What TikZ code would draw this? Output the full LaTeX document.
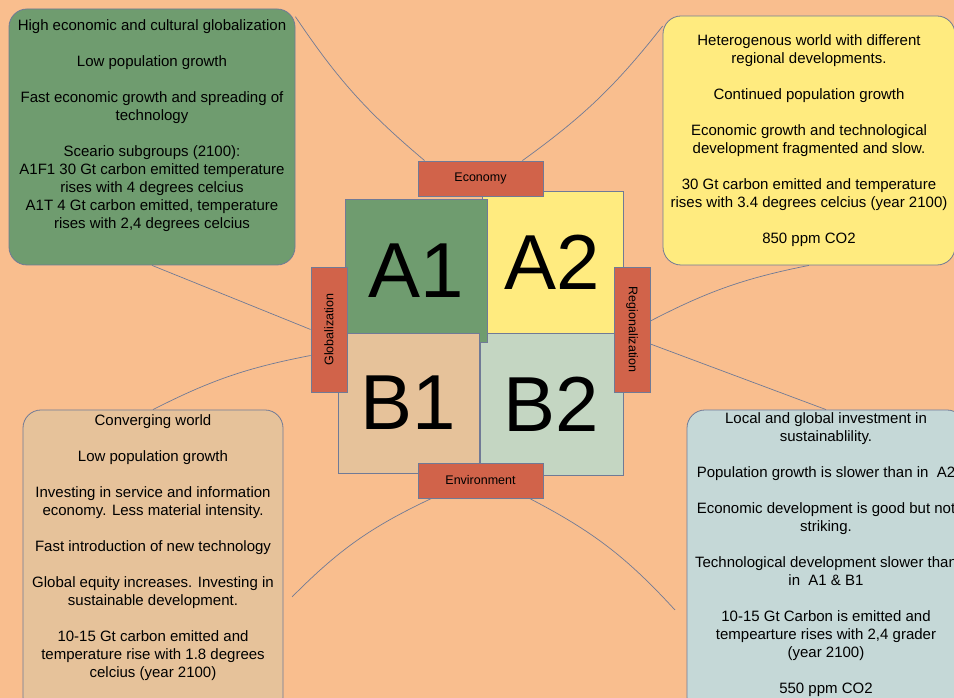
\documentclass[tikz,border=0pt]{standalone}
\usepackage{fontspec}
\setmainfont{Liberation Sans}
\usetikzlibrary{positioning}

\definecolor{bgpeach}{RGB}{249,190,142}
\definecolor{edge}{RGB}{112,122,150}
\definecolor{leafgreen}{RGB}{111,156,111}
\definecolor{sunyellow}{RGB}{255,235,127}
\definecolor{sandtan}{RGB}{230,194,154}
\definecolor{sagegrey}{RGB}{196,214,194}
\definecolor{mistblue}{RGB}{197,216,215}
\definecolor{tagred}{RGB}{209,99,74}

\begin{document}
\begin{tikzpicture}[x=1pt, y=1pt,
        info/.style={draw=edge, line width=0.8pt, rounded corners=18pt},
        infotext/.style={align=center, inner sep=0pt, font=\fontsize{15}{18}\selectfont},
        square/.style={draw=edge, line width=0.8pt, inner sep=0pt, font=\fontsize{78}{78}\selectfont},
        tag/.style={draw=edge, line width=0.8pt, fill=tagred, inner sep=0pt, minimum width=125pt, font=\fontsize{12.5}{15}\selectfont},
        link/.style={draw=edge, line width=0.7pt}]

        \useasboundingbox (0,0) rectangle (954,698);
        \clip (0,0) rectangle (954,698);
        \fill[bgpeach] (0,0) rectangle (954,698);

        \node[info, fill=leafgreen, minimum width=286pt, minimum height=256pt] (a1info) at (152,561) {};
        \node[info, fill=sunyellow, minimum width=292pt, minimum height=249pt] (a2info) at (809,557.5) {};
        \node[info, fill=sandtan, minimum width=260pt, minimum height=305pt] (b1info) at (153,135.5) {};
        \node[info, fill=mistblue, minimum width=278pt, minimum height=305pt] (b2info) at (826,135.5) {};

        \node[infotext, below=10.5pt of a1info.north] (a1text) {High economic and cultural globalization\\[18pt]
            Low population growth\\[18pt]
            Fast economic growth and spreading of\\ technology\\[18pt]
            Sceario subgroups (2100):\\ A1F1 30 Gt carbon emitted temperature\\ rises with 4 degrees celcius\\
            A1T 4 Gt carbon emitted, temperature\\ rises with 2,4 degrees celcius};
        \node[infotext, below=18.5pt of a2info.north] (a2text) {Heterogenous world with different\\ regional developments.\\[18pt]
            Continued population growth\\[18pt]
            Economic growth and technological\\ development fragmented and slow.\\[18pt]
            30 Gt carbon emitted and temperature\\ rises with 3.4 degrees celcius (year 2100)\\[18pt]
            850 ppm CO2};
        \node[infotext, below=4.5pt of b1info.north] (b1text) {Converging world\\[18pt]
            Low population growth\\[18pt]
            Investing in service and information\\ economy. Less material intensity.\\[18pt]
            Fast introduction of new technology\\[18pt]
            Global equity increases. Investing in\\ sustainable development.\\[18pt]
            10-15 Gt carbon emitted and\\ temperature rise with 1.8 degrees\\ celcius (year 2100)};
        \node[infotext, below=2.5pt of b2info.north] (b2text) {Local and global investment in\\ sustainablility.\\[18pt]
            Population growth is slower than in \ A2\\[18pt]
            Economic development is good but not\\ striking.\\[18pt]
            Technological development slower than\\ in \ A1 \& B1\\[18pt]
            10-15 Gt Carbon is emitted and\\ tempearture rises with 2,4 grader\\ (year 2100)\\[18pt]
            550 ppm CO2};

        \foreach \name/\x/\y/\w/\h/\col/\txt in {a2/552.5/436/141/142/sunyellow/A2, b2/551.5/294/143/142/sagegrey/B2,
            a1/416/427.5/142/143/leafgreen/A1, b1/408.5/295/141/140/sandtan/B1} {
            \node[square, fill=\col, minimum width=\w pt, minimum height=\h pt] (\name sq) at (\x,\y) {\txt};
        }

        \node[tag, minimum height=35pt] (econ) at (480.5,519.5) {Economy};
        \node[tag, minimum height=36pt, rotate=90] (glob) at (329,368.5) {Globalization};
        \node[tag, minimum height=36pt, rotate=-90] (regi) at (632,368.5) {Regionalization};
        \node[tag, minimum height=35pt] (envi) at (480.5,217.5) {Environment};

        \coordinate (envfreeL) at (292,101);
        \coordinate (envfreeR) at (675,88);

        \draw[link] (a1info.40) to[bend right=8] ([xshift=7pt]econ.north west);
        \draw[link] ([xshift=-21pt]econ.north east) to[bend right=8] (a2info.142);
        \draw[link] (a1info.south) -- (glob.north);
        \draw[link] ([yshift=-26pt]glob.north) to[bend right=8] (b1info.north);
        \draw[link] ([yshift=8.5pt]regi.north) to[bend left=8] (a2info.south);
        \draw[link] ([yshift=-14.5pt]regi.north) -- (b2info.north);
        \draw[link] ([xshift=14pt]envi.south west) to[bend right=10] (envfreeL);
        \draw[link] ([xshift=-14pt]envi.south east) to[bend left=10] (envfreeR);
    \end{tikzpicture}
\end{document}
